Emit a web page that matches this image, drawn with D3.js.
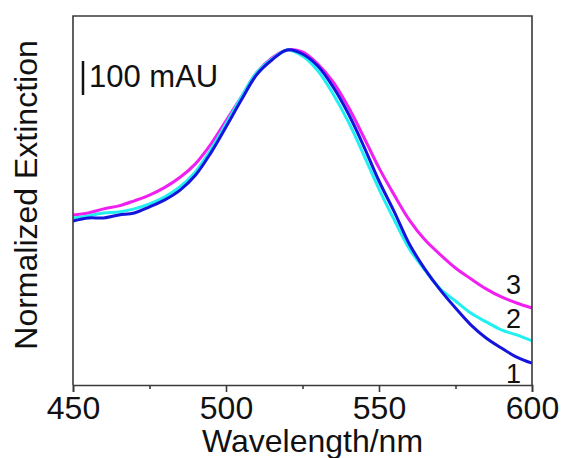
<!DOCTYPE html>
<html><head><meta charset="utf-8">
<script src="https://cdn.jsdelivr.net/npm/d3@7"></script>
<style>html,body{margin:0;padding:0;background:#fff;}svg{display:block;font-family:Arial,"Liberation Sans",sans-serif;}</style>
</head><body>
<svg id="chart" width="561" height="458"></svg>
<script>
const wavelengths = d3.range(450, 601, 5);
const series1 = [0.488,0.497,0.497,0.506,0.512,0.530,0.551,0.580,0.624,0.690,0.768,0.848,0.923,0.967,0.997,0.985,0.949,0.887,0.807,0.711,0.607,0.515,0.418,0.345,0.283,0.229,0.179,0.140,0.110,0.083,0.065];
const series2 = [0.497,0.503,0.512,0.515,0.524,0.539,0.560,0.590,0.634,0.700,0.777,0.857,0.929,0.970,0.997,0.979,0.935,0.866,0.783,0.685,0.583,0.491,0.404,0.342,0.286,0.250,0.214,0.188,0.164,0.149,0.131];
const series3 = [0.506,0.512,0.524,0.533,0.548,0.565,0.588,0.618,0.658,0.716,0.786,0.857,0.929,0.973,0.997,0.991,0.955,0.902,0.827,0.738,0.646,0.565,0.490,0.432,0.388,0.348,0.316,0.286,0.262,0.244,0.229];
const seriesNames = ["1","2","3"];
const seriesColors = ["#1414dc","#22f0f0","#f020f0"];
const majorTicks = [450,500,550,600];
const minorTicks = [475,525,575];
const xLabel = "Wavelength/nm";
const yLabel = "Normalized Extinction";
const scaleLabel = "100 mAU";

const svg = d3.select("#chart");
const L=73, R=532, T=16, B=385;
const x = d3.scaleLinear().domain([450,600]).range([L,R]);
const y = d3.scaleLinear().domain([0,1.098]).range([B,T]);
const axisColor = "#3a3a3a";

const all = [series1, series2, series3];
const line = d3.line().x((d,i)=>x(wavelengths[i])).y(d=>y(d)).curve(d3.curveCatmullRom);
[2,1,0].forEach(k=>{
  svg.append("path").attr("d", line(all[k])).attr("fill","none")
     .attr("stroke", seriesColors[k]).attr("stroke-width",3).attr("stroke-linejoin","round");
});

svg.append("path").attr("d",`M${L},${B}V${T}H${R}V${B}`).attr("fill","none").attr("stroke",axisColor).attr("stroke-width",1.6);

const gx = svg.append("g").attr("transform",`translate(0,${B})`)
  .call(d3.axisBottom(x).tickValues(majorTicks).tickSize(7).tickPadding(6).tickFormat(d3.format("d")));
gx.select(".domain").attr("stroke",axisColor).attr("stroke-width",1.6);
gx.selectAll(".tick line").attr("stroke",axisColor).attr("stroke-width",1.6);
gx.selectAll(".tick text").attr("font-size",32).attr("font-family","Arial, 'Liberation Sans', sans-serif").attr("fill","#111").attr("dy","0.71em").attr("y",11);
const gm = svg.append("g").attr("transform",`translate(0,${B})`)
  .call(d3.axisBottom(x).tickValues(minorTicks).tickSize(4).tickFormat(""));
gm.select(".domain").remove();
gm.selectAll(".tick line").attr("stroke",axisColor).attr("stroke-width",1.6);

svg.append("text").attr("x",(L+R)/2+10).attr("y",452).attr("text-anchor","middle")
  .attr("font-size",32).attr("fill","#111").text(xLabel);
svg.append("text").attr("transform",`translate(37,195) rotate(-90)`).attr("text-anchor","middle")
  .attr("font-size",32).attr("fill","#111").text(yLabel);

svg.append("line").attr("x1",83).attr("x2",83).attr("y1",61).attr("y2",95).attr("stroke","#111").attr("stroke-width",2.5);
svg.append("text").attr("x",89).attr("y",87).attr("font-size",31).attr("fill","#111").text(scaleLabel);

const labelPos = [383,328,294];
seriesNames.forEach((n,i)=>{
  svg.append("text").attr("x",521).attr("y",labelPos[i]).attr("text-anchor","end")
    .attr("font-size",27).attr("fill","#111").text(n);
});
</script>
</body></html>
